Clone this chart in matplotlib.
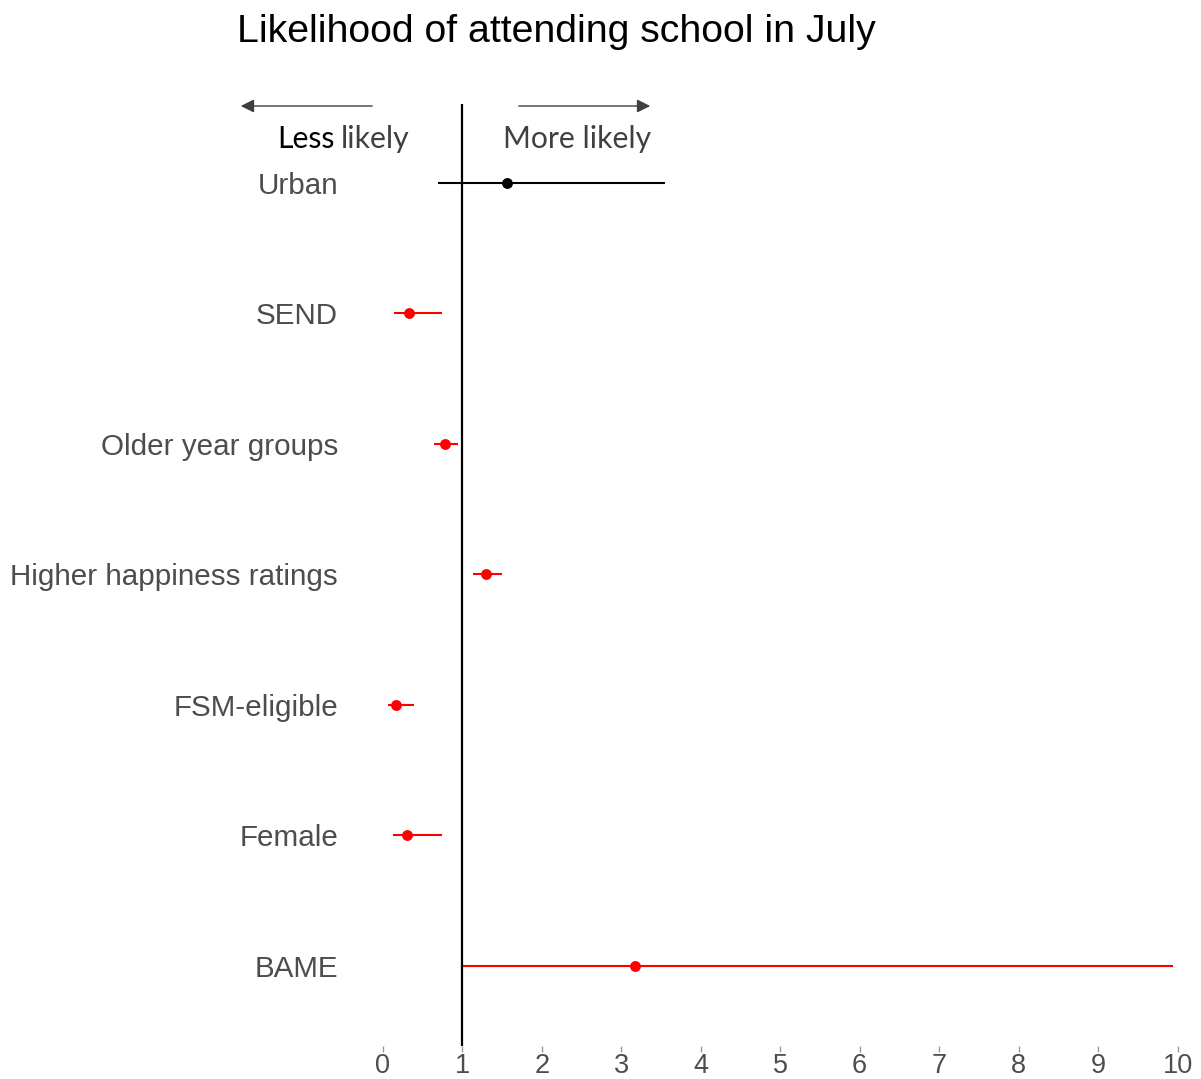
import numpy as np
import matplotlib.pyplot as plt

# Odds ratios with confidence intervals (bottom to top)
categories = ["BAME", "Female", "FSM-eligible", "Higher happiness ratings",
              "Older year groups", "SEND", "Urban"]
estimate = [3.18, 0.31, 0.17, 1.30, 0.78, 0.33, 1.56]
ci_low = [1.01, 0.13, 0.07, 1.13, 0.65, 0.145, 0.69]
ci_high = [9.94, 0.74, 0.39, 1.50, 0.95, 0.75, 3.55]
significant = [True, True, True, True, True, True, False]
x_ticks = list(range(0, 11))

W, H = 1201, 1079
fig = plt.figure(figsize=(W / 100, H / 100), dpi=100)

# axes placed in pixels so the panel lines up with the reference
left, right, top, bottom = 343, 1199, 104, 1046
ax = fig.add_axes([left / W, 1 - bottom / H, (right - left) / W, (bottom - top) / H])

y = np.arange(len(categories))
for i in range(len(categories)):
    col = "#ff0000" if significant[i] else "black"
    ax.plot([ci_low[i], ci_high[i]], [y[i], y[i]], color=col, lw=1.5,
            solid_capstyle="butt", zorder=2)
    ax.plot(estimate[i], y[i], "o", color=col, ms=6.8, zorder=3)

ax.axvline(1, color="black", lw=1.6, zorder=1)

ax.set_xlim(-0.5, 10.27)
ax.set_ylim(-0.613, 6.605)
ax.set_xticks(x_ticks)
ax.set_yticks(y)
ax.set_yticklabels(categories)

for s in ax.spines.values():
    s.set_visible(False)
ax.tick_params(axis="y", length=0, pad=3.5, labelsize=21.3, labelcolor="#4d4d4d")
ax.tick_params(axis="x", length=4, width=1, color="#999999", pad=1,
               labelsize=19.5, labelcolor="#4d4d4d")
for lab in ax.get_xticklabels() + ax.get_yticklabels():
    lab.set_fontfamily("Liberation Sans")

# title
fig.text(556 / W, 1 - 32 / H, "Likelihood of attending school in July",
         ha="center", va="center", fontsize=28.3, family="Liberation Sans")

# direction arrows and labels
arrow_col = "#404040"
ax.annotate("", xy=(238 / W, 1 - 106 / H), xytext=(375 / W, 1 - 106 / H),
            xycoords="figure fraction", textcoords="figure fraction",
            arrowprops=dict(arrowstyle="-|>", color=arrow_col, lw=1,
                            mutation_scale=20))
ax.annotate("", xy=(653 / W, 1 - 106 / H), xytext=(516 / W, 1 - 106 / H),
            xycoords="figure fraction", textcoords="figure fraction",
            arrowprops=dict(arrowstyle="-|>", color=arrow_col, lw=1,
                            mutation_scale=20))
t1 = fig.text(277 / W, 1 - 139 / H, "Less", ha="left", va="center",
              fontsize=21.7, family="Lato", color="black")
fig.canvas.draw()
bb = t1.get_window_extent()
fig.text(bb.x1 / W + 6 / W, 1 - 139 / H, "likely", ha="left", va="center",
         fontsize=21.7, family="Lato", color=arrow_col)
fig.text(503 / W, 1 - 139 / H, "More likely", ha="left", va="center",
         fontsize=21.7, family="Lato", color=arrow_col)

fig.savefig("out.png", dpi=100)
